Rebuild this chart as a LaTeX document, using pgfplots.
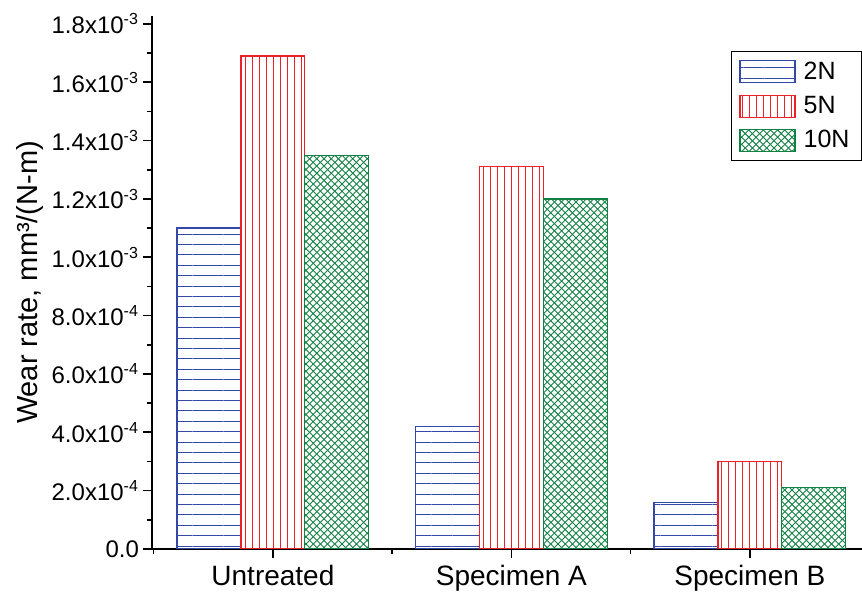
\documentclass[border=0pt]{standalone}
\usepackage{fontspec}
\setmainfont{Liberation Sans}
\usepackage{pgfplots}
\pgfplotsset{compat=1.18}
\usetikzlibrary{patterns,patterns.meta}

\definecolor{c2n}{RGB}{52,72,168}
\definecolor{c5n}{RGB}{236,32,40}
\definecolor{c10n}{RGB}{18,128,66}

% diamond crosshatch for the 10N bars
\tikzdeclarepattern{
  name=xhatch,
  type=uncolored,
  bottom left={(-.1pt,-.1pt)},
  top right={(3.7pt,3.7pt)},
  tile size={(3.6pt,3.6pt)},
  code={
    \draw[line width=0.45pt] (0,0) -- (3.6pt,3.6pt);
    \draw[line width=0.45pt] (0,3.6pt) -- (3.6pt,0);
  }
}

\begin{document}
\begin{tikzpicture}
\begin{axis}[
    name=ax,
    scale only axis,
    width=355pt,
    height=266.5pt,
    xmin=-0.507, xmax=2.47,
    ymin=0, ymax=1.827e-3,
    axis x line*=bottom,
    axis y line*=left,
    axis line style={line width=1pt},
    tick align=outside,
    tick style={black, line width=0.8pt},
    major tick length=4.5pt,
    minor tick length=2.5pt,
    xtick={0,1,2},
    xticklabels={Untreated,Specimen A,Specimen B},
    minor xtick={-0.5,0.5,1.5},
    ytick={0,0.0002,0.0004,0.0006,0.0008,0.001,0.0012,0.0014,0.0016,0.0018},
    minor ytick={0.0001,0.0003,0.0005,0.0007,0.0009,0.0011,0.0013,0.0015,0.0017},
    yticklabels={0.0,
      2.0x10\textsuperscript{-4},4.0x10\textsuperscript{-4},
      6.0x10\textsuperscript{-4},8.0x10\textsuperscript{-4},
      1.0x10\textsuperscript{-3},1.2x10\textsuperscript{-3},
      1.4x10\textsuperscript{-3},1.6x10\textsuperscript{-3},
      1.8x10\textsuperscript{-3}},
    scaled y ticks=false,
    xticklabel style={font=\fontsize{14}{16}\selectfont},
    yticklabel style={font=\fontsize{12}{14}\selectfont, xshift=1.5pt},
    ylabel={Wear rate, mm³/(N-m)},
    ylabel style={font=\fontsize{14.5}{16}\selectfont,
      at={([xshift=-61pt]axis description cs:0,0.5)}, anchor=center},
    legend style={at={(1,0.934)}, anchor=north east, draw=black,
      line width=0.5pt, font=\fontsize{12.5}{14}\selectfont,
      inner xsep=4pt, inner ysep=3pt, row sep=3pt,
      /tikz/every odd column/.append style={column sep=2pt}},
    legend cell align=left,
    legend image code/.code={\draw[#1] (0pt,-5.5pt) rectangle (27.5pt,5.5pt);},
]

\addplot[ybar, bar width=0.268, bar shift=-0.268, draw=c2n, line width=0.6pt,
  pattern={Lines[angle=0,distance=5.2pt,line width=0.45pt]}, pattern color=c2n]
  coordinates {(0,1.10e-3) (1,4.2e-4) (2,1.6e-4)};
\addlegendentry{2N}

\addplot[ybar, bar width=0.268, bar shift=0, draw=c5n, line width=0.6pt,
  pattern={Lines[angle=90,distance=3.5pt,line width=0.45pt]}, pattern color=c5n]
  coordinates {(0,1.69e-3) (1,1.31e-3) (2,3.0e-4)};
\addlegendentry{5N}

\addplot[ybar, bar width=0.268, bar shift=0.268, draw=c10n, line width=0.6pt,
  pattern=xhatch, pattern color=c10n]
  coordinates {(0,1.35e-3) (1,1.20e-3) (2,2.1e-4)};
\addlegendentry{10N}

\end{axis}
\pgfresetboundingbox
\path ([xshift=-76pt,yshift=-24.5pt]ax.south west) rectangle ([yshift=8pt]ax.north east);
\end{tikzpicture}
\end{document}
